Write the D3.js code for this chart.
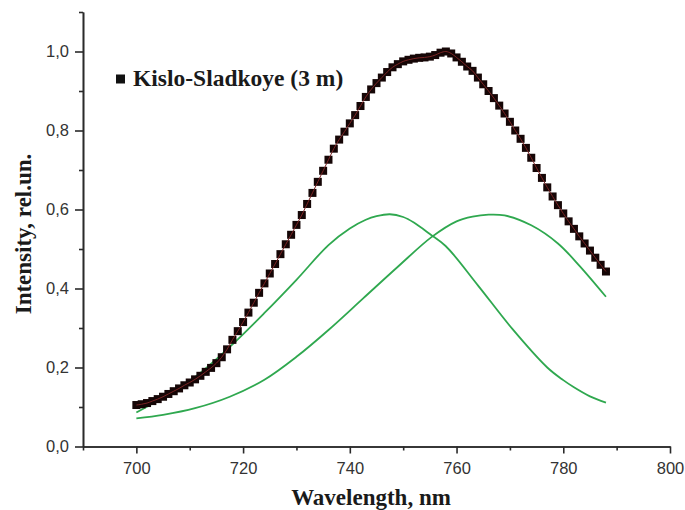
<!DOCTYPE html>
<html>
<head>
<meta charset="utf-8">
<script src="https://cdn.jsdelivr.net/npm/d3@7"></script>
<style>
  body { margin: 0; background: #fff; }
  svg { display: block; }
</style>
</head>
<body>
<svg id="chart" width="685" height="510"></svg>
<script>
// measured spectrum, 1 nm step starting at 700 nm
var startWl = 700;
var intensity = [
  0.105, 0.107, 0.110, 0.115, 0.120, 0.126, 0.133, 0.140, 0.147, 0.155,
  0.162, 0.170, 0.179, 0.189, 0.199, 0.211, 0.226, 0.246, 0.270, 0.292,
  0.315, 0.339, 0.364, 0.389, 0.413, 0.438, 0.462, 0.487, 0.512, 0.536,
  0.561, 0.586, 0.614, 0.642, 0.670, 0.698, 0.726, 0.754, 0.777, 0.797,
  0.818, 0.839, 0.862, 0.885, 0.904, 0.920, 0.934, 0.948, 0.960, 0.968,
  0.975, 0.979, 0.982, 0.984, 0.985, 0.987, 0.991, 0.997, 1.000, 0.995,
  0.985, 0.974, 0.962, 0.951, 0.934, 0.917, 0.900, 0.882, 0.863, 0.843,
  0.822, 0.800, 0.779, 0.756, 0.731, 0.705, 0.680, 0.656, 0.633, 0.611,
  0.590, 0.570, 0.551, 0.532, 0.514, 0.496, 0.478, 0.460, 0.443
];

// gaussian components (green)
var peak1Wl = [700, 705, 711, 717.5, 724, 730, 736, 740, 743, 745, 747.5, 750, 752, 755, 758, 764, 770.5, 777, 780, 782, 785, 788];
var peak1Val = [0.086, 0.124, 0.176, 0.252, 0.338, 0.422, 0.510, 0.552, 0.574, 0.583, 0.588, 0.581, 0.567, 0.538, 0.507, 0.408, 0.297, 0.200, 0.168, 0.150, 0.127, 0.111];

var peak2Wl = [700, 705, 711, 717.5, 724, 730, 736, 742.5, 749, 755.3, 760, 763, 766, 769, 774, 779, 783, 788];
var peak2Val = [0.071, 0.080, 0.097, 0.126, 0.169, 0.227, 0.295, 0.375, 0.455, 0.530, 0.570, 0.582, 0.587, 0.585, 0.560, 0.514, 0.458, 0.379];

var xMajor = [700, 720, 740, 760, 780, 800];
var xMinor = [690, 710, 730, 750, 770, 790];
var yMajor = [0, 0.2, 0.4, 0.6, 0.8, 1.0];
var yMinor = [0.1, 0.3, 0.5, 0.7, 0.9, 1.1];

var legendLabel = "Kislo-Sladkoye (3 m)";
var xTitle = "Wavelength, nm";
var yTitle = "Intensity, rel.un.";

var svg = d3.select('#chart');

var x = d3.scaleLinear().domain([690, 800]).range([83, 670]);
var y = d3.scaleLinear().domain([0, 1.1]).range([446.5, 12]);

var fmt = function(d) { return d3.format('.1f')(d).replace('.', ','); };
var axisColor = '#2a2a2a';
var serif = '"Liberation Serif", "Times New Roman", serif';
var sans = '"Liberation Sans", Arial, sans-serif';

//minor ticks first, then the major ones with labels
svg.append('g')
  .attr('transform', 'translate(0,' + y(0) + ')')
  .call(d3.axisBottom(x).tickValues(xMinor).tickSize(4).tickSizeOuter(0).tickFormat(''));
var gx = svg.append('g')
  .attr('transform', 'translate(0,' + y(0) + ')')
  .call(d3.axisBottom(x).tickValues(xMajor).tickSize(7).tickSizeOuter(0).tickFormat(d3.format('d')).tickPadding(9));

svg.append('g')
  .attr('transform', 'translate(' + x(690) + ',0)')
  .call(d3.axisLeft(y).tickValues(yMinor).tickSize(4).tickSizeOuter(0).tickFormat(''));
var gy = svg.append('g')
  .attr('transform', 'translate(' + x(690) + ',0)')
  .call(d3.axisLeft(y).tickValues(yMajor).tickSize(8).tickSizeOuter(0).tickFormat(fmt).tickPadding(6));

svg.selectAll('.domain, .tick line')
  .attr('stroke', axisColor)
  .attr('stroke-width', 1.6);
svg.selectAll('.tick text')
  .attr('fill', '#333')
  .style('font-family', sans)
  .style('font-size', '16.5px');

// green components
var line = d3.line()
  .x(function(d) { return x(d[0]); })
  .y(function(d) { return y(d[1]); })
  .curve(d3.curveCatmullRom);

[[peak1Wl, peak1Val], [peak2Wl, peak2Val]].forEach(function(p) {
  svg.append('path')
    .datum(d3.zip(p[0], p[1]))
    .attr('d', line)
    .attr('fill', 'none')
    .attr('stroke', '#2fa84f')
    .attr('stroke-width', 1.8);
});

// measured points
var pts = intensity.map(function(v, i) { return [startWl + i, v]; });
var sq = 8;
svg.append('g').selectAll('rect')
  .data(pts)
  .enter().append('rect')
  .attr('x', function(d) { return x(d[0]) - sq / 2; })
  .attr('y', function(d) { return y(d[1]) - sq / 2; })
  .attr('width', sq)
  .attr('height', sq)
  .attr('fill', '#150606');

// thin fit line through the points
svg.append('path')
  .datum(pts)
  .attr('d', line)
  .attr('fill', 'none')
  .attr('stroke', '#7a2424')
  .attr('stroke-width', 1);

// legend
svg.append('rect')
  .attr('x', 116).attr('y', 74.5)
  .attr('width', 9).attr('height', 9)
  .attr('fill', '#111');
svg.append('text')
  .attr('x', 133).attr('y', 86)
  .style('font-family', serif)
  .style('font-weight', 'bold')
  .style('font-size', '23.5px')
  .attr('fill', '#1a1a1a')
  .text(legendLabel);

// axis titles
svg.append('text')
  .attr('x', 371).attr('y', 505)
  .attr('text-anchor', 'middle')
  .style('font-family', serif)
  .style('font-weight', 'bold')
  .style('font-size', '23px')
  .attr('fill', '#1a1a1a')
  .text(xTitle);

svg.append('text')
  .attr('transform', 'translate(31,234) rotate(-90)')
  .attr('text-anchor', 'middle')
  .style('font-family', serif)
  .style('font-weight', 'bold')
  .style('font-size', '23px')
  .attr('fill', '#1a1a1a')
  .text(yTitle);
</script>
</body>
</html>
